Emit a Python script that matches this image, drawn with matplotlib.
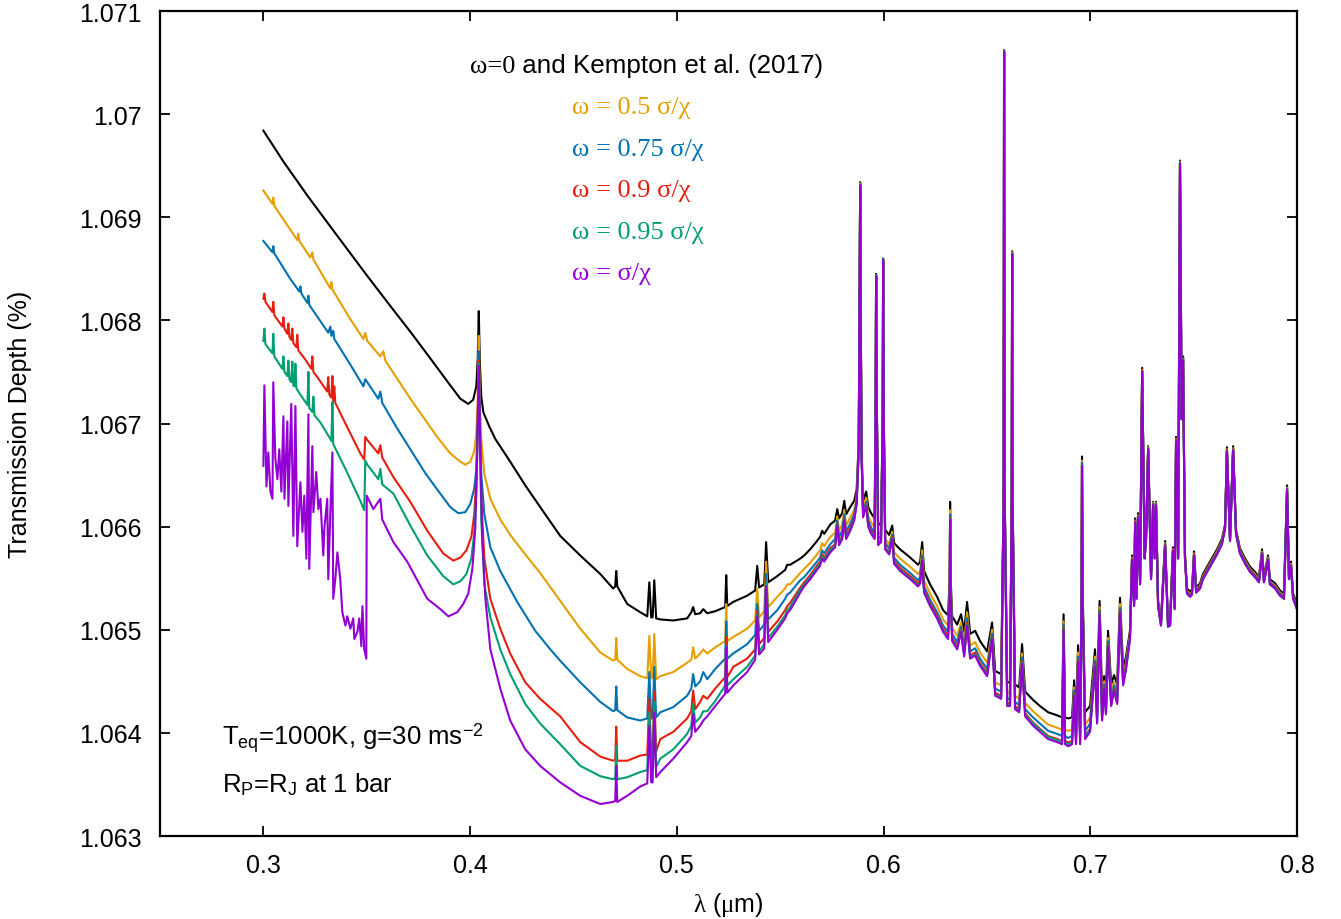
import numpy as np
import matplotlib
matplotlib.use('Agg')
import matplotlib.pyplot as plt
from matplotlib.ticker import FuncFormatter

plt.rcParams['font.family'] = ['Liberation Sans', 'DejaVu Sans']
plt.rcParams['mathtext.fontset'] = 'custom'
plt.rcParams['mathtext.rm'] = 'Liberation Serif'
plt.rcParams['mathtext.it'] = 'Liberation Serif'
plt.rcParams['mathtext.sf'] = 'Liberation Sans'

# transmission depth (%) vs wavelength (um) for the six scattering models
# w0: omega=0 (Kempton et al. 2017), w050 ... w100: omega = 0.5 ... 1.0 sigma/chi

# --- 0.30 - 0.463 um, own grid per model ---
wl_uv_w0 = [0.3000, 0.3097, 0.3213, 0.3324, 0.3421, 0.3503, 0.3614, 0.3711, 0.3808, 0.3904,
            0.3953, 0.3991, 0.4015, 0.4030, 0.4037, 0.4042, 0.4047, 0.4054, 0.4064, 0.4093,
            0.4122, 0.4194, 0.4267, 0.4339, 0.4436, 0.4533, 0.4630]
td_uv_w0 = [1.06984, 1.06954, 1.06921, 1.06891, 1.06865, 1.06843, 1.06814, 1.06789, 1.06763, 1.06737,
            1.06724, 1.06719, 1.06723, 1.06736, 1.06763, 1.06809, 1.06761, 1.06726, 1.06711, 1.06697,
            1.06685, 1.06663, 1.06640, 1.06619, 1.06591, 1.06572, 1.06554]

wl_uv_w050 = [0.3000, 0.3044, 0.3048, 0.3053, 0.3164, 0.3169, 0.3174, 0.3227, 0.3237, 0.3242,
              0.3324, 0.3329, 0.3334, 0.3421, 0.3484, 0.3493, 0.3503, 0.3566, 0.3580, 0.3590,
              0.3711, 0.3841, 0.3904, 0.3953, 0.3977, 0.4001, 0.4020, 0.4030, 0.4037, 0.4042,
              0.4047, 0.4054, 0.4069, 0.4098, 0.4146, 0.4194, 0.4267, 0.4339, 0.4436, 0.4533,
              0.4630]
td_uv_w050 = [1.06926, 1.06913, 1.06919, 1.06911, 1.06878, 1.06884, 1.06877, 1.06861, 1.06866, 1.06859,
              1.06831, 1.06837, 1.06830, 1.06801, 1.06782, 1.06788, 1.06780, 1.06765, 1.06770, 1.06761,
              1.06724, 1.06687, 1.06671, 1.06663, 1.06660, 1.06663, 1.06673, 1.06690, 1.06724, 1.06785,
              1.06724, 1.06685, 1.06651, 1.06627, 1.06607, 1.06592, 1.06573, 1.06555, 1.06528, 1.06501,
              1.06478]

wl_uv_w075 = [0.3000, 0.3044, 0.3048, 0.3053, 0.3131, 0.3174, 0.3179, 0.3184, 0.3213, 0.3218,
              0.3222, 0.3314, 0.3324, 0.3329, 0.3338, 0.3343, 0.3421, 0.3484, 0.3493, 0.3503,
              0.3556, 0.3566, 0.3575, 0.3648, 0.3711, 0.3783, 0.3841, 0.3904, 0.3943, 0.3977,
              0.4001, 0.4020, 0.4030, 0.4037, 0.4042, 0.4047, 0.4054, 0.4069, 0.4098, 0.4146,
              0.4228, 0.4315, 0.4388, 0.4436, 0.4533, 0.4630]
td_uv_w075 = [1.06877, 1.06866, 1.06872, 1.06865, 1.06840, 1.06828, 1.06833, 1.06826, 1.06817, 1.06824,
              1.06815, 1.06788, 1.06794, 1.06785, 1.06790, 1.06782, 1.06757, 1.06736, 1.06743, 1.06740,
              1.06724, 1.06731, 1.06720, 1.06695, 1.06675, 1.06652, 1.06636, 1.06619, 1.06613, 1.06614,
              1.06622, 1.06637, 1.06656, 1.06704, 1.06770, 1.06704, 1.06651, 1.06612, 1.06580, 1.06557,
              1.06527, 1.06499, 1.06481, 1.06470, 1.06449, 1.06430]

wl_uv_w090 = [0.3000, 0.3005, 0.3010, 0.3044, 0.3048, 0.3053, 0.3092, 0.3097, 0.3102, 0.3116,
              0.3121, 0.3126, 0.3135, 0.3140, 0.3145, 0.3160, 0.3164, 0.3169, 0.3203, 0.3232,
              0.3237, 0.3242, 0.3261, 0.3309, 0.3314, 0.3319, 0.3329, 0.3334, 0.3338, 0.3343,
              0.3348, 0.3397, 0.3469, 0.3488, 0.3493, 0.3503, 0.3556, 0.3566, 0.3575, 0.3629,
              0.3711, 0.3793, 0.3870, 0.3919, 0.3953, 0.3982, 0.4006, 0.4020, 0.4030, 0.4037,
              0.4042, 0.4047, 0.4054, 0.4069, 0.4098, 0.4146, 0.4194, 0.4267, 0.4339, 0.4436,
              0.4533, 0.4630]
td_uv_w090 = [1.06821, 1.06826, 1.06818, 1.06808, 1.06818, 1.06805, 1.06794, 1.06803, 1.06792, 1.06787,
              1.06797, 1.06784, 1.06781, 1.06792, 1.06778, 1.06774, 1.06786, 1.06771, 1.06762, 1.06753,
              1.06765, 1.06750, 1.06745, 1.06731, 1.06745, 1.06728, 1.06725, 1.06746, 1.06722, 1.06736,
              1.06720, 1.06700, 1.06671, 1.06665, 1.06687, 1.06684, 1.06671, 1.06679, 1.06667, 1.06648,
              1.06624, 1.06596, 1.06574, 1.06567, 1.06570, 1.06577, 1.06590, 1.06612, 1.06646, 1.06700,
              1.06761, 1.06700, 1.06627, 1.06569, 1.06530, 1.06501, 1.06477, 1.06449, 1.06433, 1.06416,
              1.06391, 1.06377]

wl_uv_w095 = [0.3000, 0.3005, 0.3010, 0.3044, 0.3048, 0.3053, 0.3092, 0.3097, 0.3102, 0.3116,
              0.3121, 0.3126, 0.3135, 0.3140, 0.3145, 0.3150, 0.3155, 0.3160, 0.3179, 0.3213,
              0.3218, 0.3222, 0.3237, 0.3242, 0.3247, 0.3276, 0.3324, 0.3329, 0.3334, 0.3338,
              0.3397, 0.3469, 0.3488, 0.3493, 0.3503, 0.3556, 0.3566, 0.3575, 0.3629, 0.3711,
              0.3793, 0.3870, 0.3919, 0.3953, 0.3982, 0.4006, 0.4020, 0.4030, 0.4037, 0.4042,
              0.4047, 0.4054, 0.4069, 0.4098, 0.4146, 0.4194, 0.4267, 0.4339, 0.4436, 0.4533,
              0.4630]
td_uv_w095 = [1.06780, 1.06792, 1.06777, 1.06768, 1.06787, 1.06765, 1.06753, 1.06765, 1.06750, 1.06746,
              1.06761, 1.06743, 1.06740, 1.06760, 1.06737, 1.06736, 1.06758, 1.06734, 1.06728, 1.06718,
              1.06750, 1.06715, 1.06711, 1.06726, 1.06708, 1.06701, 1.06685, 1.06683, 1.06721, 1.06680,
              1.06656, 1.06625, 1.06616, 1.06664, 1.06660, 1.06646, 1.06656, 1.06641, 1.06632, 1.06601,
              1.06572, 1.06552, 1.06544, 1.06547, 1.06554, 1.06569, 1.06593, 1.06632, 1.06695, 1.06758,
              1.06695, 1.06607, 1.06544, 1.06512, 1.06481, 1.06457, 1.06428, 1.06409, 1.06389, 1.06368,
              1.06358]

wl_uv_w100 = [0.3000, 0.3005, 0.3015, 0.3024, 0.3034, 0.3044, 0.3048, 0.3058, 0.3068, 0.3077,
              0.3087, 0.3097, 0.3102, 0.3116, 0.3121, 0.3135, 0.3145, 0.3155, 0.3164, 0.3179,
              0.3189, 0.3198, 0.3208, 0.3218, 0.3222, 0.3237, 0.3242, 0.3256, 0.3266, 0.3276,
              0.3290, 0.3295, 0.3309, 0.3314, 0.3324, 0.3334, 0.3338, 0.3348, 0.3358, 0.3372,
              0.3382, 0.3397, 0.3406, 0.3421, 0.3435, 0.3440, 0.3455, 0.3464, 0.3474, 0.3479,
              0.3488, 0.3498, 0.3500, 0.3532, 0.3566, 0.3575, 0.3629, 0.3696, 0.3793, 0.3856,
              0.3895, 0.3938, 0.3967, 0.3991, 0.4011, 0.4025, 0.4035, 0.4042, 0.4049, 0.4059,
              0.4074, 0.4098, 0.4146, 0.4194, 0.4267, 0.4339, 0.4436, 0.4533, 0.4630]
td_uv_w100 = [1.06659, 1.06737, 1.06639, 1.06672, 1.06634, 1.06627, 1.06740, 1.06666, 1.06646, 1.06675,
              1.06634, 1.06707, 1.06627, 1.06702, 1.06620, 1.06719, 1.06591, 1.06717, 1.06581, 1.06643,
              1.06595, 1.06630, 1.06569, 1.06709, 1.06559, 1.06678, 1.06614, 1.06653, 1.06617, 1.06627,
              1.06572, 1.06598, 1.06627, 1.06549, 1.06614, 1.06672, 1.06530, 1.06549, 1.06575, 1.06549,
              1.06517, 1.06504, 1.06513, 1.06501, 1.06511, 1.06491, 1.06498, 1.06511, 1.06484, 1.06523,
              1.06481, 1.06472, 1.06630, 1.06617, 1.06627, 1.06607, 1.06585, 1.06566, 1.06530, 1.06520,
              1.06513, 1.06517, 1.06525, 1.06535, 1.06559, 1.06598, 1.06675, 1.06756, 1.06675, 1.06588,
              1.06530, 1.06481, 1.06443, 1.06412, 1.06384, 1.06368, 1.06352, 1.06339, 1.06331]

# --- 0.469 - 0.560 um, shared grid ---
wl_mid = [0.4692, 0.4702, 0.4707, 0.4712, 0.4760, 0.4823, 0.4857, 0.4867, 0.4876, 0.4883,
          0.4891, 0.4900, 0.4920, 0.4983, 0.5050, 0.5070, 0.5079, 0.5089, 0.5113, 0.5128,
          0.5147, 0.5186, 0.5234, 0.5239, 0.5244, 0.5273, 0.5340, 0.5379, 0.5389, 0.5398,
          0.5423, 0.5432, 0.5442, 0.5486, 0.5524, 0.5534, 0.5548, 0.5597]
td_mid_w0 = [1.06540, 1.06542, 1.06557, 1.06542, 1.06525, 1.06517, 1.06513, 1.06546, 1.06512, 1.06512,
             1.06548, 1.06511, 1.06510, 1.06509, 1.06511, 1.06517, 1.06522, 1.06515, 1.06516, 1.06520,
             1.06516, 1.06518, 1.06522, 1.06553, 1.06523, 1.06527, 1.06533, 1.06538, 1.06562, 1.06541,
             1.06544, 1.06585, 1.06546, 1.06552, 1.06558, 1.06563, 1.06563, 1.06569]
td_mid_w050 = [1.06470, 1.06471, 1.06492, 1.06471, 1.06462, 1.06455, 1.06453, 1.06494, 1.06453, 1.06453,
               1.06496, 1.06452, 1.06455, 1.06459, 1.06468, 1.06471, 1.06483, 1.06472, 1.06477, 1.06481,
               1.06477, 1.06483, 1.06489, 1.06525, 1.06489, 1.06493, 1.06501, 1.06509, 1.06540, 1.06512,
               1.06518, 1.06566, 1.06522, 1.06532, 1.06540, 1.06544, 1.06544, 1.06555]
td_mid_w075 = [1.06421, 1.06422, 1.06445, 1.06422, 1.06415, 1.06412, 1.06414, 1.06459, 1.06414, 1.06414,
               1.06464, 1.06415, 1.06420, 1.06425, 1.06436, 1.06443, 1.06457, 1.06445, 1.06450, 1.06459,
               1.06452, 1.06462, 1.06472, 1.06508, 1.06472, 1.06477, 1.06486, 1.06495, 1.06525, 1.06499,
               1.06505, 1.06554, 1.06510, 1.06519, 1.06530, 1.06534, 1.06536, 1.06548]
td_mid_w090 = [1.06373, 1.06374, 1.06406, 1.06373, 1.06373, 1.06378, 1.06379, 1.06433, 1.06379, 1.06379,
               1.06440, 1.06382, 1.06394, 1.06401, 1.06414, 1.06421, 1.06441, 1.06423, 1.06430, 1.06436,
               1.06433, 1.06443, 1.06454, 1.06493, 1.06454, 1.06464, 1.06472, 1.06481, 1.06518, 1.06486,
               1.06492, 1.06547, 1.06498, 1.06508, 1.06519, 1.06523, 1.06526, 1.06541]
td_mid_w095 = [1.06355, 1.06356, 1.06387, 1.06355, 1.06357, 1.06362, 1.06364, 1.06420, 1.06364, 1.06364,
               1.06430, 1.06367, 1.06375, 1.06384, 1.06399, 1.06407, 1.06428, 1.06410, 1.06415, 1.06421,
               1.06421, 1.06431, 1.06446, 1.06484, 1.06446, 1.06452, 1.06464, 1.06475, 1.06515, 1.06479,
               1.06486, 1.06546, 1.06492, 1.06503, 1.06514, 1.06519, 1.06522, 1.06539]
td_mid_w100 = [1.06333, 1.06334, 1.06368, 1.06333, 1.06339, 1.06348, 1.06351, 1.06407, 1.06352, 1.06352,
               1.06420, 1.06357, 1.06362, 1.06375, 1.06391, 1.06397, 1.06418, 1.06401, 1.06407, 1.06412,
               1.06416, 1.06426, 1.06438, 1.06483, 1.06439, 1.06446, 1.06459, 1.06471, 1.06513, 1.06476,
               1.06482, 1.06542, 1.06488, 1.06500, 1.06511, 1.06516, 1.06519, 1.06536]

# --- 0.562 - 0.80 um, shared grid ---
wl_red = [0.5616, 0.5645, 0.5674, 0.5693, 0.5703, 0.5713, 0.5742, 0.5766, 0.5776, 0.5785,
          0.5800, 0.5810, 0.5819, 0.5839, 0.5858, 0.5870, 0.5880, 0.5884, 0.5887, 0.5889,
          0.5894, 0.5901, 0.5916, 0.5926, 0.5940, 0.5957, 0.5962, 0.5964, 0.5967, 0.5974,
          0.5988, 0.5996, 0.5998, 0.6001, 0.6008, 0.6027, 0.6042, 0.6051, 0.6080, 0.6129,
          0.6167, 0.6177, 0.6187, 0.6196, 0.6225, 0.6259, 0.6288, 0.6312, 0.6320, 0.6322,
          0.6325, 0.6332, 0.6356, 0.6375, 0.6390, 0.6404, 0.6419, 0.6443, 0.6467, 0.6501,
          0.6525, 0.6540, 0.6569, 0.6581, 0.6583, 0.6586, 0.6598, 0.6612, 0.6620, 0.6622,
          0.6624, 0.6636, 0.6656, 0.6670, 0.6685, 0.6723, 0.6757, 0.6796, 0.6840, 0.6864,
          0.6871, 0.6878, 0.6893, 0.6912, 0.6922, 0.6931, 0.6941, 0.6951, 0.6958, 0.6960,
          0.6963, 0.6975, 0.6999, 0.7023, 0.7033, 0.7045, 0.7057, 0.7067, 0.7076, 0.7086,
          0.7101, 0.7115, 0.7130, 0.7144, 0.7159, 0.7173, 0.7192, 0.7202, 0.7212, 0.7217,
          0.7224, 0.7231, 0.7241, 0.7251, 0.7263, 0.7270, 0.7280, 0.7294, 0.7304, 0.7311,
          0.7318, 0.7328, 0.7342, 0.7362, 0.7376, 0.7386, 0.7400, 0.7408, 0.7415, 0.7425,
          0.7434, 0.7442, 0.7449, 0.7458, 0.7468, 0.7483, 0.7492, 0.7502, 0.7512, 0.7531,
          0.7545, 0.7579, 0.7613, 0.7637, 0.7652, 0.7661, 0.7676, 0.7691, 0.7705, 0.7724,
          0.7749, 0.7773, 0.7797, 0.7816, 0.7831, 0.7840, 0.7860, 0.7869, 0.7894, 0.7918,
          0.7937, 0.7952, 0.7961, 0.7971, 0.7981, 0.8000]
td_red_w100 = [1.06542, 1.06549, 1.06557, 1.06562, 1.06569, 1.06566, 1.06575, 1.06580, 1.06601, 1.06582,
               1.06588, 1.06606, 1.06588, 1.06596, 1.06606, 1.06622, 1.06675, 1.06821, 1.06931, 1.06821,
               1.06666, 1.06609, 1.06620, 1.06600, 1.06593, 1.06588, 1.06724, 1.06843, 1.06724, 1.06582,
               1.06585, 1.06704, 1.06858, 1.06704, 1.06578, 1.06573, 1.06588, 1.06564, 1.06557, 1.06549,
               1.06542, 1.06545, 1.06567, 1.06536, 1.06523, 1.06511, 1.06498, 1.06491, 1.06530, 1.06607,
               1.06530, 1.06489, 1.06481, 1.06498, 1.06474, 1.06504, 1.06472, 1.06475, 1.06465, 1.06455,
               1.06491, 1.06436, 1.06433, 1.06627, 1.07060, 1.06627, 1.06426, 1.06426, 1.06627, 1.06864,
               1.06627, 1.06423, 1.06420, 1.06467, 1.06416, 1.06407, 1.06401, 1.06394, 1.06391, 1.06389,
               1.06500, 1.06389, 1.06387, 1.06389, 1.06436, 1.06389, 1.06469, 1.06389, 1.06530, 1.06659,
               1.06530, 1.06394, 1.06401, 1.06465, 1.06409, 1.06515, 1.06412, 1.06443, 1.06418, 1.06484,
               1.06426, 1.06441, 1.06428, 1.06517, 1.06446, 1.06462, 1.06491, 1.06567, 1.06523, 1.06604,
               1.06530, 1.06609, 1.06544, 1.06750, 1.06569, 1.06588, 1.06675, 1.06549, 1.06621, 1.06569,
               1.06621, 1.06523, 1.06504, 1.06581, 1.06503, 1.06504, 1.06576, 1.06520, 1.06683, 1.06569,
               1.06952, 1.06704, 1.06761, 1.06569, 1.06535, 1.06532, 1.06534, 1.06572, 1.06536, 1.06540,
               1.06549, 1.06561, 1.06573, 1.06583, 1.06598, 1.06673, 1.06586, 1.06674, 1.06593, 1.06574,
               1.06564, 1.06556, 1.06551, 1.06546, 1.06573, 1.06546, 1.06567, 1.06544, 1.06540, 1.06533,
               1.06530, 1.06635, 1.06549, 1.06561, 1.06530, 1.06520]
# height of the other models above the w100 curve on wl_red, in units of 1e-5 %
lift_red_w0 = [30, 29, 28, 28, 27, 27, 27, 26, 16, 26, 25, 19, 24, 23, 19, 14, 8, 4, 3, 4,
               8, 15, 14, 19, 20, 20, 5, 2, 5, 19, 19, 5, 2, 5, 19, 19, 13, 20, 21, 21,
               21, 21, 18, 21, 21, 21, 21, 23, 19, 17, 19, 24, 24, 17, 24, 23, 24, 24, 24, 24,
               16, 24, 24, 5, 2, 5, 23, 23, 5, 3, 5, 24, 24, 19, 24, 25, 25, 26, 26, 26,
               15, 26, 27, 26, 15, 26, 16, 26, 10, 9, 10, 26, 25, 16, 24, 13, 23, 12, 23, 15,
               21, 15, 19, 14, 16, 12, 8, 5, 5, 4, 5, 4, 5, 4, 5, 5, 3, 5, 3, 5,
               3, 5, 5, 5, 5, 5, 4, 5, 4, 4, 3, 4, 4, 5, 5, 5, 5, 4, 5, 5,
               5, 5, 5, 5, 4, 4, 4, 4, 4, 5, 5, 5, 5, 5, 5, 5, 5, 5, 5, 5,
               5, 5, 5, 5, 5, 5]
lift_red_w050 = [17, 16, 15, 15, 15, 15, 15, 14, 9, 14, 14, 10, 13, 13, 10, 8, 4, 2, 2, 2,
                 4, 8, 8, 10, 11, 11, 3, 1, 3, 10, 10, 3, 1, 3, 10, 10, 7, 11, 12, 12,
                 12, 12, 10, 12, 12, 12, 12, 13, 10, 9, 10, 13, 13, 9, 13, 13, 13, 13, 13, 13,
                 9, 13, 13, 3, 1, 3, 13, 13, 3, 2, 3, 13, 13, 10, 13, 14, 14, 14, 14, 14,
                 8, 14, 15, 14, 8, 14, 9, 14, 6, 5, 6, 14, 14, 9, 13, 7, 13, 7, 13, 8,
                 12, 8, 10, 8, 9, 7, 4, 3, 3, 2, 3, 2, 3, 2, 3, 3, 2, 3, 2, 3,
                 2, 3, 3, 3, 3, 3, 2, 3, 2, 2, 2, 2, 2, 3, 3, 3, 3, 2, 3, 3,
                 3, 3, 3, 3, 2, 2, 2, 2, 2, 3, 3, 3, 3, 3, 3, 3, 3, 3, 3, 3,
                 3, 3, 3, 3, 3, 3]
lift_red_w075 = [9, 9, 8, 8, 8, 8, 8, 8, 5, 8, 8, 6, 7, 7, 6, 4, 2, 1, 1, 1,
                 2, 5, 4, 6, 6, 6, 2, 1, 2, 6, 6, 2, 1, 2, 6, 6, 4, 6, 6, 6,
                 6, 6, 5, 6, 6, 6, 6, 7, 6, 5, 6, 7, 7, 5, 7, 7, 7, 7, 7, 7,
                 5, 7, 7, 2, 1, 2, 7, 7, 2, 1, 2, 7, 7, 6, 7, 8, 8, 8, 8, 8,
                 5, 8, 8, 8, 5, 8, 5, 8, 3, 3, 3, 8, 8, 5, 7, 4, 7, 4, 7, 5,
                 6, 5, 6, 4, 5, 4, 2, 2, 2, 1, 2, 1, 2, 1, 2, 2, 1, 2, 1, 2,
                 1, 2, 2, 2, 2, 2, 1, 2, 1, 1, 1, 1, 1, 2, 2, 2, 2, 1, 2, 2,
                 2, 2, 2, 2, 1, 1, 1, 1, 1, 2, 2, 2, 2, 2, 2, 2, 2, 2, 2, 2,
                 2, 2, 2, 2, 2, 2]
lift_red_w090 = [4, 4, 4, 4, 4, 4, 4, 3, 2, 3, 3, 2, 3, 3, 2, 2, 1, 1, 0, 1,
                 1, 2, 2, 2, 3, 3, 1, 0, 1, 2, 2, 1, 0, 1, 2, 2, 2, 3, 3, 3,
                 3, 3, 2, 3, 3, 3, 3, 3, 2, 2, 2, 3, 3, 2, 3, 3, 3, 3, 3, 3,
                 2, 3, 3, 1, 0, 1, 3, 3, 1, 0, 1, 3, 3, 2, 3, 3, 3, 3, 3, 3,
                 2, 3, 4, 3, 2, 3, 2, 3, 1, 1, 1, 3, 3, 2, 3, 2, 3, 2, 3, 2,
                 3, 2, 2, 2, 2, 2, 1, 1, 1, 1, 1, 1, 1, 1, 1, 1, 0, 1, 0, 1,
                 0, 1, 1, 1, 1, 1, 1, 1, 1, 1, 0, 1, 1, 1, 1, 1, 1, 1, 1, 1,
                 1, 1, 1, 1, 1, 1, 1, 1, 1, 1, 1, 1, 1, 1, 1, 1, 1, 1, 1, 1,
                 1, 1, 1, 1, 1, 1]
lift_red_w095 = [2, 2, 2, 2, 2, 2, 2, 2, 1, 2, 2, 1, 1, 1, 1, 1, 0, 0, 0, 0,
                 0, 1, 1, 1, 1, 1, 0, 0, 0, 1, 1, 0, 0, 0, 1, 1, 1, 1, 1, 1,
                 1, 1, 1, 1, 1, 1, 1, 1, 1, 1, 1, 1, 1, 1, 1, 1, 1, 1, 1, 1,
                 1, 1, 1, 0, 0, 0, 1, 1, 0, 0, 0, 1, 1, 1, 1, 2, 2, 2, 2, 2,
                 1, 2, 2, 2, 1, 2, 1, 2, 1, 1, 1, 2, 2, 1, 1, 1, 1, 1, 1, 1,
                 1, 1, 1, 1, 1, 1, 0, 0, 0, 0, 0, 0, 0, 0, 0, 0, 0, 0, 0, 0,
                 0, 0, 0, 0, 0, 0, 0, 0, 0, 0, 0, 0, 0, 0, 0, 0, 0, 0, 0, 0,
                 0, 0, 0, 0, 0, 0, 0, 0, 0, 0, 0, 0, 0, 0, 0, 0, 0, 0, 0, 0,
                 0, 0, 0, 0, 0, 0]

models = [
    ('#000000', wl_uv_w0, td_uv_w0, td_mid_w0, lift_red_w0),
    ('#E69F00', wl_uv_w050, td_uv_w050, td_mid_w050, lift_red_w050),
    ('#0072B2', wl_uv_w075, td_uv_w075, td_mid_w075, lift_red_w075),
    ('#E51E10', wl_uv_w090, td_uv_w090, td_mid_w090, lift_red_w090),
    ('#009E73', wl_uv_w095, td_uv_w095, td_mid_w095, lift_red_w095),
    ('#9400D3', wl_uv_w100, td_uv_w100, td_mid_w100, None),
]

labels = ['ω = 0.5 σ/χ', 'ω = 0.75 σ/χ', 'ω = 0.9 σ/χ', 'ω = 0.95 σ/χ', 'ω = σ/χ']

fig = plt.figure(figsize=(13.41, 9.2), dpi=100)
ax = fig.add_axes([160/1341, 83/920, 1137/1341, 825/920])

base_red = np.array(td_red_w100)
for color, wl_uv, td_uv, td_mid, lift in models:
    td_red = base_red if lift is None else base_red + np.array(lift) * 1e-5
    wl = np.concatenate([wl_uv, wl_mid, wl_red])
    td = np.concatenate([td_uv, td_mid, td_red])
    ax.plot(wl, td, color=color, lw=1.5)

ax.set_xlim(0.25, 0.8)
ax.set_ylim(1.063, 1.071)
ax.set_xticks([0.3, 0.4, 0.5, 0.6, 0.7, 0.8])
ax.set_yticks(np.round(np.arange(1.063, 1.0715, 0.001), 3))
ax.yaxis.set_major_formatter(FuncFormatter(lambda v, p: '%g' % round(v, 3)))
ax.xaxis.set_major_formatter(FuncFormatter(lambda v, p: '%g' % round(v, 2)))
ax.tick_params(direction='in', length=7, width=1.3, top=True, right=True, labelsize=18)
ax.tick_params(axis='x', pad=12)
ax.tick_params(axis='y', pad=13)
for s in ax.spines.values():
    s.set_linewidth(1.6)

ax.text(-0.1231, 0.5, 'Transmission Depth (%)', rotation=90, ha='center', va='center',
        fontsize=18, transform=ax.transAxes)
ax.text(0.4996, -0.0824, r'$\lambda$ ($\mu$m)', ha='center', va='center',
        fontsize=18, transform=ax.transAxes)

t0 = ax.text(0.2726, 0.9261, 'ω=0', family='Liberation Serif', fontsize=19,
             va='baseline', transform=ax.transAxes)
ax.annotate(' and Kempton et al. (2017)', xy=(1, 0), xycoords=t0, va='bottom',
            fontsize=18.7)
for (color, *_), lab, fy in zip(models[1:], labels, [0.8764, 0.8255, 0.7758, 0.7248, 0.6752]):
    ax.text(0.3624, fy, lab, color=color, family='Liberation Serif', fontsize=19,
            va='baseline', transform=ax.transAxes)

ax.text(0.0545, 0.1115, r'T$_{\mathsf{eq}}$=1000K, g=30 ms$^{\mathsf{-2}}$', fontsize=18.5,
        va='baseline', transform=ax.transAxes)
ax.text(0.0545, 0.0545, r'R$_{\mathsf{P}}$=R$_{\mathsf{J}}$ at 1 bar', fontsize=18.5,
        va='baseline', transform=ax.transAxes)

fig.savefig('out.png', dpi=100)
